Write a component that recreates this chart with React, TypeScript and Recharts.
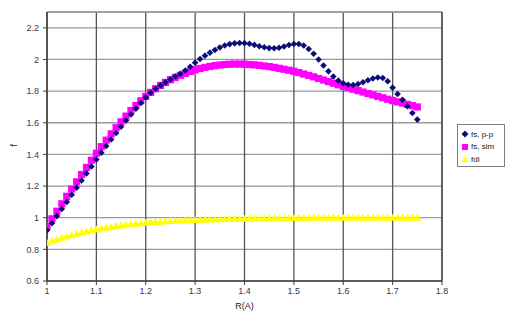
import React from "react";
import {
  ScatterChart,
  Scatter,
  XAxis,
  YAxis,
  CartesianGrid,
  ReferenceLine,
} from "recharts";

const rValues = [
  1.0, 1.01, 1.02, 1.03, 1.04, 1.05, 1.06, 1.07, 1.08, 1.09,
  1.1, 1.11, 1.12, 1.13, 1.14, 1.15, 1.16, 1.17, 1.18, 1.19,
  1.2, 1.21, 1.22, 1.23, 1.24, 1.25, 1.26, 1.27, 1.28, 1.29,
  1.3, 1.31, 1.32, 1.33, 1.34, 1.35, 1.36, 1.37, 1.38, 1.39,
  1.4, 1.41, 1.42, 1.43, 1.44, 1.45, 1.46, 1.47, 1.48, 1.49,
  1.5, 1.51, 1.52, 1.53, 1.54, 1.55, 1.56, 1.57, 1.58, 1.59,
  1.6, 1.61, 1.62, 1.63, 1.64, 1.65, 1.66, 1.67, 1.68, 1.69,
  1.7, 1.71, 1.72, 1.73, 1.74, 1.75,
];

const fsPP = [
  0.92, 0.965, 1.01, 1.055, 1.1, 1.145, 1.19, 1.235, 1.28, 1.324,
  1.368, 1.411, 1.453, 1.494, 1.535, 1.575, 1.614, 1.652, 1.689, 1.725,
  1.76, 1.79, 1.815, 1.836, 1.855, 1.874, 1.892, 1.91, 1.93, 1.954,
  1.98, 2.003, 2.024, 2.043, 2.06, 2.076, 2.088, 2.097, 2.102, 2.104,
  2.103, 2.099, 2.092, 2.084, 2.077, 2.072, 2.071, 2.074, 2.082, 2.091,
  2.098, 2.098, 2.088, 2.066, 2.036, 2.0, 1.962, 1.925, 1.892, 1.866,
  1.849, 1.84, 1.839, 1.845, 1.856, 1.869, 1.88, 1.886, 1.883, 1.862,
  1.822, 1.782, 1.745, 1.705, 1.662, 1.62,
];

const fsSim = [
  0.945, 0.993, 1.041, 1.088, 1.135, 1.181, 1.227, 1.273, 1.318, 1.363,
  1.407, 1.449, 1.49, 1.53, 1.569, 1.606, 1.642, 1.677, 1.709, 1.739,
  1.767, 1.792, 1.815, 1.836, 1.855, 1.872, 1.887, 1.9, 1.912, 1.924,
  1.935, 1.943, 1.95, 1.956, 1.961, 1.965, 1.968, 1.97, 1.971, 1.971,
  1.97, 1.968, 1.966, 1.963, 1.959, 1.955, 1.95, 1.944, 1.938, 1.932,
  1.925, 1.917, 1.908, 1.899, 1.89, 1.88, 1.87, 1.86, 1.85, 1.84,
  1.83, 1.821, 1.812, 1.803, 1.794, 1.785, 1.776, 1.767, 1.758, 1.749,
  1.74, 1.732, 1.724, 1.716, 1.708, 1.7,
];

const fdl = [
  0.84, 0.852, 0.863, 0.873, 0.882, 0.891, 0.899, 0.906, 0.913, 0.92,
  0.926, 0.932, 0.937, 0.942, 0.947, 0.951, 0.955, 0.959, 0.962, 0.965,
  0.968, 0.971, 0.973, 0.975, 0.977, 0.979, 0.981, 0.983, 0.984, 0.985,
  0.986, 0.987, 0.988, 0.989, 0.99, 0.991, 0.992, 0.993, 0.993, 0.994,
  0.994, 0.995, 0.995, 0.996, 0.996, 0.996, 0.997, 0.997, 0.997, 0.998,
  0.998, 0.998, 0.998, 0.998, 0.999, 0.999, 0.999, 0.999, 0.999, 0.999,
  0.999, 1.0, 1.0, 1.0, 1.0, 1.0, 1.0, 1.0, 1.0, 1.0,
  1.0, 1.0, 1.0, 1.0, 1.0, 1.0,
];

const xTicks = [1, 1.1, 1.2, 1.3, 1.4, 1.5, 1.6, 1.7, 1.8];
const yTicks = [0.6, 0.8, 1, 1.2, 1.4, 1.6, 1.8, 2, 2.2];

const seriesNames = ["fs, p-p", "fs, sim", "fdl"];
const seriesColors = ["#0c0c78", "#ff00ff", "#ffff00"];

const toPoints = (ys: number[]) => rValues.map((x, i) => ({ x, y: ys[i] }));

const Diamond = (props: any) => {
  const { cx, cy } = props;
  if (cx == null || cy == null) return null;
  const s = 3.3;
  return (
    <polygon
      points={`${cx},${cy - s} ${cx + s},${cy} ${cx},${cy + s} ${cx - s},${cy}`}
      fill={seriesColors[0]}
    />
  );
};

const Square = (props: any) => {
  const { cx, cy } = props;
  if (cx == null || cy == null) return null;
  const s = 3.6;
  return <rect x={cx - s} y={cy - s} width={2 * s} height={2 * s} fill={seriesColors[1]} />;
};

const Triangle = (props: any) => {
  const { cx, cy } = props;
  if (cx == null || cy == null) return null;
  const s = 4;
  return (
    <polygon
      points={`${cx},${cy - s} ${cx + s},${cy + s * 0.75} ${cx - s},${cy + s * 0.75}`}
      fill={seriesColors[2]}
    />
  );
};

const LegendBox = () => (
  <div
    style={{
      position: "absolute",
      left: 457,
      top: 124,
      border: "1px solid #808080",
      background: "#fff",
      width: 48,
      height: 43,
      boxSizing: "border-box",
      padding: "3px 0 0 3px",
      fontFamily: "'Liberation Sans', Arial, sans-serif",
      fontSize: 8,
      color: "#222",
    }}
  >
    {seriesNames.map((n, i) => (
      <div key={n} style={{ display: "flex", alignItems: "center", height: 12.5 }}>
        <svg width={8} height={8} style={{ marginRight: 2 }}>
          {i === 0 && <polygon points="4,0.5 7.5,4 4,7.5 0.5,4" fill={seriesColors[0]} />}
          {i === 1 && <rect x={1} y={1} width={6} height={6} fill={seriesColors[1]} />}
          {i === 2 && <polygon points="4,1 7.5,7 0.5,7" fill={seriesColors[2]} />}
        </svg>
        <span>{n}</span>
      </div>
    ))}
  </div>
);

const tickStyle = {
  fontFamily: "'Liberation Sans', Arial, sans-serif",
  fontSize: 9,
  fill: "#3a3a4a",
};

export default function App() {
  return (
    <div style={{ position: "absolute", left: 0, top: 0, width: 512, height: 322, background: "#fff" }}>
      <ScatterChart
        width={512}
        height={322}
        margin={{ top: 12, right: 70, bottom: 11, left: 0 }}
      >
        <CartesianGrid horizontal={true} vertical={false} stroke="#9a9a9a" strokeWidth={1.3} />
        <CartesianGrid horizontal={false} vertical={true} stroke="#555" strokeWidth={1.3} />
        <ReferenceLine y={2.3} stroke="#9a9a9a" strokeWidth={1.3} />
        <ReferenceLine x={1.8} stroke="#555" strokeWidth={1.5} />
        <XAxis
          type="number"
          dataKey="x"
          domain={[1, 1.8]}
          ticks={xTicks}
          allowDataOverflow
          height={30}
          tick={tickStyle}
          tickSize={4}
          tickMargin={3}
          axisLine={{ stroke: "#404040", strokeWidth: 1.5 }}
          tickLine={{ stroke: "#404040" }}
          label={{
            value: "R(A)",
            position: "insideBottom",
            offset: 0,
            dy: -2,
            style: { ...tickStyle, fill: "#222" },
          }}
        />
        <YAxis
          type="number"
          dataKey="y"
          domain={[0.6, 2.3]}
          ticks={yTicks}
          allowDataOverflow
          width={47}
          tick={tickStyle}
          tickSize={4}
          tickMargin={4}
          axisLine={{ stroke: "#404040", strokeWidth: 1.5 }}
          tickLine={{ stroke: "#404040" }}
          label={{
            value: "f",
            angle: -90,
            position: "insideLeft",
            offset: 14,
            style: { ...tickStyle, fill: "#222" },
          }}
        />
        <Scatter name={seriesNames[2]} data={toPoints(fdl)} fill={seriesColors[2]} shape={<Triangle />} isAnimationActive={false} />
        <Scatter name={seriesNames[1]} data={toPoints(fsSim)} fill={seriesColors[1]} shape={<Square />} isAnimationActive={false} />
        <Scatter name={seriesNames[0]} data={toPoints(fsPP)} fill={seriesColors[0]} shape={<Diamond />} isAnimationActive={false} />
      </ScatterChart>
      <LegendBox />
    </div>
  );
}
